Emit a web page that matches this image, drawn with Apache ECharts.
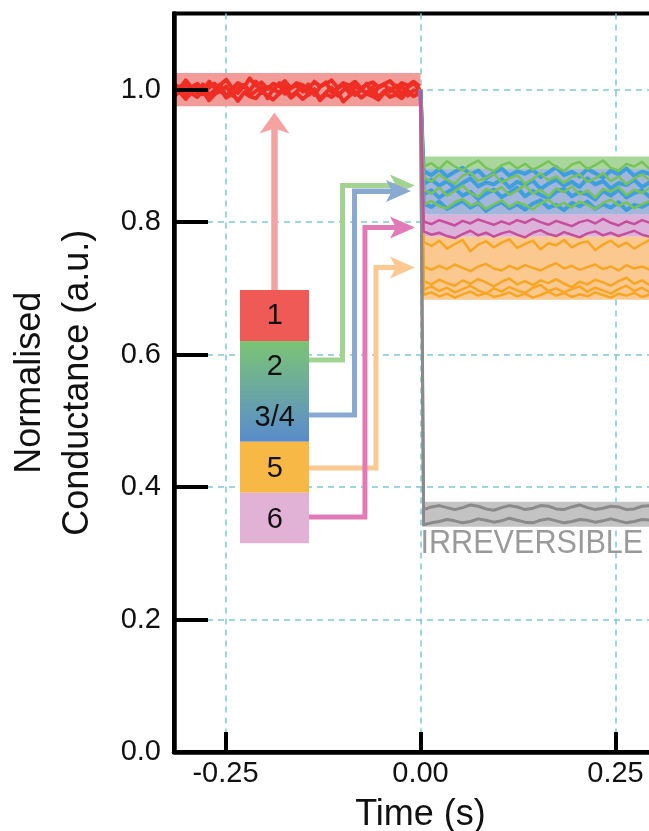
<!DOCTYPE html>
<html>
<head>
<meta charset="utf-8">
<script src="https://cdn.jsdelivr.net/npm/echarts@6/dist/echarts.min.js"></script>
<style>
  html, body { margin: 0; padding: 0; background: #ffffff; }
  #chart { width: 649px; height: 831px; }
</style>
</head>
<body>
<div id="chart"></div>
<script>
// ---- sample times (s) ----
const preTime = [-0.316,-0.309,-0.301,-0.294,-0.286,-0.279,-0.271,-0.264,-0.256,-0.249,
  -0.241,-0.234,-0.226,-0.219,-0.211,-0.204,-0.196,-0.189,-0.181,-0.174,
  -0.166,-0.159,-0.151,-0.144,-0.136,-0.129,-0.121,-0.114,-0.106,-0.099,
  -0.091,-0.084,-0.076,-0.069,-0.061,-0.054,-0.046,-0.039,-0.031,-0.024,
  -0.016,-0.009,-0.001];
const postTime = [0.000,0.004,0.014,0.024,0.034,0.044,0.054,0.064,0.074,0.084,
  0.094,0.104,0.114,0.124,0.134,0.144,0.154,0.164,0.174,0.184,
  0.194,0.204,0.214,0.224,0.234,0.244,0.254,0.264,0.274,0.284,
  0.294,0.304,0.314,0.324];

// ---- normalised conductance before the pulse (state 1) ----
const red1 = [1.004,0.996,1.008,0.999,1.006,0.993,1.003,1.009,0.997,1.005,0.991,1.002,1.007,0.998,1.012,0.995,1.004,0.999,1.010,0.994,1.003,1.006,0.997,1.008,0.992,1.004,1.011,0.996,1.002,1.007,0.995,1.005,0.999,1.009,0.994,1.003,1.008,0.997,1.006,0.993,1.004,1.010,1.000];
const red2 = [0.994,1.005,0.990,1.003,0.996,1.008,0.992,0.999,1.006,0.989,1.002,0.995,1.007,0.991,0.998,1.004,0.987,1.001,0.995,1.006,0.990,0.997,1.004,0.993,1.001,0.986,0.996,1.003,0.991,0.999,1.005,0.992,1.000,0.995,1.004,0.988,0.998,1.002,0.994,1.006,0.991,0.999,0.997];
const red3 = [1.010,1.001,1.014,1.004,1.009,0.999,1.012,1.003,1.008,1.015,1.002,1.010,1.004,1.017,1.006,1.011,1.001,1.009,1.005,1.013,1.002,1.010,1.007,1.001,1.012,1.005,1.009,1.014,1.003,1.010,1.006,1.012,1.002,1.008,1.011,1.004,1.009,1.013,1.003,1.010,1.006,1.012,1.005];
const red4 = [0.990,0.997,0.986,0.995,0.989,0.998,0.984,0.993,0.999,0.988,0.994,0.983,0.996,0.990,0.987,0.997,0.991,0.985,0.994,0.999,0.988,0.995,0.986,0.992,0.998,0.984,0.993,0.989,0.996,0.982,0.991,0.997,0.988,0.994,0.990,0.985,0.996,0.989,0.993,0.987,0.998,0.990,0.995];

// ---- after the pulse ----
const green1 = [1.0,0.884,0.889,0.880,0.892,0.884,0.878,0.887,0.893,0.882,0.877,0.886,0.890,0.881,0.888,0.879,0.885,0.892,0.883,0.877,0.887,0.891,0.880,0.886,0.893,0.882,0.878,0.888,0.884,0.891,0.880,0.886,0.889,0.883];
const green2 = [1.0,0.868,0.861,0.872,0.864,0.858,0.870,0.875,0.862,0.867,0.873,0.860,0.866,0.871,0.858,0.865,0.874,0.863,0.869,0.859,0.868,0.872,0.861,0.866,0.874,0.862,0.869,0.857,0.866,0.872,0.863,0.870,0.860,0.867];
const green3 = [1.0,0.849,0.843,0.852,0.840,0.847,0.855,0.844,0.838,0.850,0.846,0.853,0.841,0.848,0.856,0.843,0.849,0.839,0.851,0.845,0.854,0.842,0.848,0.837,0.850,0.846,0.853,0.841,0.849,0.844,0.852,0.840,0.847,0.851];
const green4 = [1.0,0.826,0.832,0.824,0.821,0.830,0.835,0.825,0.829,0.820,0.827,0.833,0.823,0.830,0.826,0.819,0.828,0.834,0.824,0.829,0.822,0.831,0.826,0.820,0.829,0.834,0.825,0.830,0.821,0.827,0.832,0.824,0.829,0.826];
const blue1 = [1.0,0.877,0.871,0.880,0.869,0.876,0.882,0.872,0.878,0.866,0.874,0.881,0.870,0.877,0.873,0.879,0.868,0.875,0.883,0.871,0.876,0.869,0.880,0.874,0.867,0.878,0.872,0.881,0.870,0.876,0.873,0.879,0.868,0.875];
const blue2 = [1.0,0.858,0.864,0.855,0.862,0.851,0.859,0.866,0.854,0.860,0.857,0.865,0.852,0.861,0.856,0.863,0.850,0.858,0.864,0.855,0.861,0.853,0.866,0.857,0.862,0.851,0.859,0.856,0.864,0.853,0.860,0.857,0.863,0.855];
const blue3 = [1.0,0.842,0.848,0.837,0.845,0.851,0.840,0.846,0.835,0.843,0.849,0.838,0.844,0.852,0.839,0.847,0.841,0.836,0.846,0.850,0.839,0.845,0.842,0.834,0.847,0.840,0.849,0.837,0.844,0.848,0.838,0.845,0.841,0.846];
const blue4 = [1.0,0.828,0.823,0.831,0.820,0.826,0.832,0.822,0.829,0.817,0.825,0.830,0.821,0.827,0.819,0.828,0.833,0.822,0.826,0.818,0.829,0.824,0.831,0.820,0.827,0.822,0.830,0.818,0.826,0.823,0.829,0.821,0.827,0.824];
const pink1 = [1.0,0.801,0.797,0.803,0.799,0.795,0.802,0.798,0.804,0.800,0.796,0.801,0.797,0.803,0.799,0.805,0.800,0.796,0.802,0.798,0.794,0.800,0.803,0.798,0.805,0.799,0.795,0.801,0.797,0.803,0.799,0.794,0.800,0.797];
const pink2 = [1.0,0.786,0.781,0.784,0.779,0.776,0.782,0.787,0.780,0.784,0.778,0.783,0.786,0.781,0.777,0.784,0.788,0.782,0.779,0.785,0.781,0.777,0.783,0.786,0.780,0.784,0.779,0.783,0.787,0.781,0.778,0.784,0.780,0.783];
const orange1 = [1.0,0.770,0.764,0.772,0.760,0.767,0.773,0.756,0.766,0.771,0.762,0.769,0.774,0.761,0.767,0.772,0.759,0.768,0.765,0.773,0.762,0.768,0.771,0.758,0.766,0.772,0.763,0.769,0.760,0.767,0.773,0.764,0.769,0.766];
const orange2 = [1.0,0.733,0.728,0.734,0.729,0.736,0.731,0.726,0.733,0.737,0.730,0.727,0.734,0.729,0.735,0.731,0.727,0.733,0.738,0.730,0.734,0.728,0.732,0.736,0.729,0.733,0.727,0.735,0.730,0.733,0.728,0.734,0.731,0.729];
const orange3 = [1.0,0.711,0.706,0.713,0.708,0.704,0.712,0.707,0.714,0.709,0.703,0.710,0.715,0.706,0.711,0.705,0.712,0.708,0.714,0.707,0.702,0.710,0.706,0.713,0.709,0.704,0.711,0.716,0.707,0.712,0.705,0.710,0.708,0.713];
const orange4 = [1.0,0.698,0.703,0.696,0.701,0.694,0.699,0.704,0.697,0.692,0.700,0.695,0.702,0.697,0.693,0.701,0.705,0.696,0.700,0.694,0.699,0.703,0.695,0.701,0.697,0.692,0.699,0.704,0.696,0.701,0.694,0.700,0.697,0.702];
const orange5 = [1.0,0.690,0.694,0.688,0.692,0.686,0.691,0.695,0.689,0.693,0.687,0.690,0.694,0.688,0.692,0.686,0.690,0.695,0.689,0.693,0.687,0.691,0.688,0.694,0.690,0.686,0.692,0.689,0.693,0.687,0.691,0.694,0.688,0.690];
const grey1 = [1.0,0.366,0.370,0.372,0.369,0.366,0.369,0.373,0.371,0.367,0.365,0.369,0.372,0.370,0.366,0.368,0.372,0.371,0.367,0.366,0.370,0.373,0.369,0.366,0.368,0.371,0.370,0.366,0.367,0.371,0.372,0.368,0.366,0.369];
const grey2 = [1.0,0.343,0.346,0.348,0.351,0.349,0.346,0.348,0.352,0.350,0.347,0.349,0.353,0.350,0.347,0.346,0.350,0.352,0.349,0.346,0.348,0.351,0.350,0.347,0.349,0.352,0.349,0.346,0.348,0.351,0.350,0.347,0.348,0.350];

// ---- spread of each state: [t start, t end, low, high] ----
const spreadRed    = [-0.316, 0.000, 0.975, 1.025];
const spreadGreen  = [0.002, 0.316, 0.820, 0.899];
const spreadBlue   = [0.002, 0.316, 0.811, 0.880];
const spreadPink   = [0.002, 0.316, 0.778, 0.811];
const spreadOrange = [0.002, 0.316, 0.683, 0.778];
const spreadGrey   = [0.002, 0.316, 0.340, 0.378];

// ---- axis ticks ----
const xTicks = [-0.25, 0.00, 0.25];
const yTicks = [0.0, 0.2, 0.4, 0.6, 0.8, 1.0];
const X_MIN = -0.316, X_MAX = 0.316, Y_MIN = 0, Y_MAX = 1.115;

// ---- state key (swatch boundaries in conductance units, key spans t = keyLeft..keyRight) ----
const keyLeft = -0.2314, keyRight = -0.1429;
const keyEdges = [0.6976, 0.6206, 0.4686, 0.3915, 0.3151];
const keyLabels = ['1', '2', '3/4', '5', '6'];
const keyLabelT = -0.1869;
const keyLabelY = [0.6586, 0.5806, 0.5043, 0.4273, 0.3510];

// ---- connectors from the key to each level ----
const linkRed    = [[-0.1872, 0.6976], [-0.1872, 0.9497]];
const linkGreen  = [[-0.1429, 0.5919], [-0.1000, 0.5919], [-0.1000, 0.8554], [-0.0231, 0.8554]];
const linkBlue   = [[-0.1429, 0.5088], [-0.0846, 0.5088], [-0.0846, 0.8470], [-0.0282, 0.8470]];
const linkOrange = [[-0.1429, 0.4288], [-0.0571, 0.4288], [-0.0571, 0.7315], [-0.0231, 0.7315]];
const linkPink   = [[-0.1429, 0.3548], [-0.0712, 0.3548], [-0.0712, 0.7919], [-0.0231, 0.7919]];

const irreversibleText = 'IRREVERSIBLE';
const irreversibleAt = [0.0, 0.340];

// ---- styling ----
const FONT = '"Liberation Sans", Arial, Helvetica, sans-serif';
const C = {
  red: '#ee2e24', redBand: '#f29c9a',
  green: '#78c25a', greenBand: '#a9d79b',
  blue: '#3f9fdd', blueBand: '#a2b5da',
  pink: '#c64f9d', pinkBand: '#dcb2da',
  orange: '#f6a623', orangeBand: '#fbc98f',
  grey: '#8a8a8a', greyBand: '#c3c3c3',
  grid: '#7fc9d3'
};
const ARROW = 'path://M10,0 L20,25 L10,19 L0,25 Z';
const PX_PER_SECOND = 780;

const chart = echarts.init(document.getElementById('chart'), null, { renderer: 'canvas' });

function trace(values, times, color, width, z) {
  return {
    type: 'line', xAxisIndex: 0, yAxisIndex: 0,
    data: times.map((t, i) => [t, values[i]]),
    symbol: 'none', showSymbol: false, silent: true, z: z,
    lineStyle: { color: color, width: width, join: 'round' }
  };
}

const spreads = [spreadRed, spreadGreen, spreadBlue, spreadPink, spreadOrange, spreadGrey];
const spreadColors = [C.redBand, C.greenBand, C.blueBand, C.pinkBand, C.orangeBand, C.greyBand];

const keySwatches = [];
for (let i = 0; i < keyEdges.length - 1; i++) {
  keySwatches.push([keyLeft, keyRight, keyEdges[i + 1], keyEdges[i]]);
}
const keyFills = [
  '#ef5a56',
  new echarts.graphic.LinearGradient(0, 0, 0, 1, [
    { offset: 0, color: '#7cc475' },
    { offset: 1, color: '#5a8bcc' }
  ]),
  '#f8b846',
  '#e2b2d6'
];

function rectItem(params, api, fill) {
  const p0 = api.coord([api.value(0), api.value(3)]);
  const p1 = api.coord([api.value(1), api.value(2)]);
  return {
    type: 'rect',
    shape: { x: p0[0], y: p0[1], width: p1[0] - p0[0], height: p1[1] - p0[1] },
    style: { fill: fill }
  };
}

const gridLeft = 174;
const gridWidth = (X_MAX - X_MIN) * PX_PER_SECOND;

const option = {
  animation: false,
  backgroundColor: '#ffffff',
  grid: {
    left: gridLeft, top: 13.5, bottom: 79, width: gridWidth,
    outerBoundsMode: 'none', containLabel: false,
    show: true, borderColor: '#000', borderWidth: 4, backgroundColor: 'transparent'
  },
  xAxis: [
    {
      type: 'value', min: X_MIN, max: X_MAX, position: 'top', z: 0,
      axisLine: { show: false }, axisLabel: { show: false },
      axisTick: { show: false, customValues: xTicks },
      splitLine: { show: true, lineStyle: { color: C.grid, width: 1.5, type: [6, 5] } }
    },
    {
      type: 'value', min: X_MIN, max: X_MAX, position: 'bottom', z: 10,
      axisLine: { show: true, onZero: false, lineStyle: { color: '#000', width: 4.5 } },
      axisTick: { show: true, inside: true, length: 20, customValues: xTicks, lineStyle: { color: '#000', width: 4 } },
      axisLabel: { customValues: xTicks, formatter: v => v.toFixed(2), fontSize: 29, color: '#111', margin: 7, fontFamily: FONT },
      splitLine: { show: false },
      name: 'Time (s)', nameLocation: 'middle', nameGap: 45,
      nameTextStyle: { fontSize: 36, color: '#111', fontFamily: FONT }
    }
  ],
  yAxis: [
    {
      type: 'value', min: Y_MIN, max: Y_MAX, position: 'right', z: 0,
      axisLine: { show: false }, axisLabel: { show: false },
      axisTick: { show: false, customValues: yTicks },
      splitLine: { show: true, lineStyle: { color: C.grid, width: 1.5, type: [6, 5] } }
    },
    {
      type: 'value', min: Y_MIN, max: Y_MAX, position: 'left', z: 10,
      axisLine: { show: true, onZero: false, lineStyle: { color: '#000', width: 4.5 } },
      axisTick: { show: true, inside: true, length: 34, customValues: yTicks, lineStyle: { color: '#000', width: 4 } },
      axisLabel: { customValues: yTicks, formatter: v => v.toFixed(1), fontSize: 29, color: '#111', margin: 13, fontFamily: FONT },
      splitLine: { show: false },
      name: 'Normalised\nConductance (a.u.)', nameLocation: 'middle', nameGap: 72, nameRotate: 90,
      nameTextStyle: { fontSize: 36, lineHeight: 48, color: '#111', fontFamily: FONT, align: 'center' }
    }
  ],
  series: [
    {
      type: 'custom', xAxisIndex: 0, yAxisIndex: 0, z: 1, silent: true,
      encode: { x: [0, 1], y: [2, 3] },
      data: spreads,
      renderItem: (params, api) => rectItem(params, api, spreadColors[params.dataIndex])
    },
    {
      type: 'custom', xAxisIndex: 0, yAxisIndex: 0, z: 1, silent: true,
      encode: { x: [0, 1], y: [2, 3] },
      data: keySwatches,
      renderItem: (params, api) => rectItem(params, api, keyFills[params.dataIndex])
    },
    trace(red1, preTime, C.red, 4, 2),
    trace(red2, preTime, C.red, 4, 2),
    trace(red3, preTime, C.red, 4, 2),
    trace(red4, preTime, C.red, 4, 2),
    trace(blue1, postTime, C.blue, 4, 2),
    trace(blue2, postTime, C.blue, 4, 2),
    trace(blue3, postTime, C.blue, 4, 2),
    trace(blue4, postTime, C.blue, 4, 2),
    trace(green1, postTime, C.green, 2.5, 2),
    trace(green2, postTime, C.green, 2.5, 2),
    trace(green3, postTime, C.green, 2.5, 2),
    trace(green4, postTime, C.green, 2.5, 2),
    trace(orange1, postTime, C.orange, 2.5, 2),
    trace(orange2, postTime, C.orange, 2.5, 2),
    trace(orange3, postTime, C.orange, 2.5, 2),
    trace(orange4, postTime, C.orange, 2.5, 2),
    trace(orange5, postTime, C.orange, 2.5, 2),
    trace(grey1, postTime, C.grey, 3, 2),
    trace(grey2, postTime, C.grey, 3, 2),
    trace(pink1, postTime, C.pink, 2.5, 2),
    trace(pink2, postTime, C.pink, 2.5, 2),
    {
      // bent connector paths
      type: 'lines', coordinateSystem: 'cartesian2d', xAxisIndex: 0, yAxisIndex: 0,
      polyline: true, z: 3, silent: true,
      data: [
        { coords: linkGreen, lineStyle: { color: '#a2d391' } },
        { coords: linkBlue, lineStyle: { color: '#89a9d3' } },
        { coords: linkOrange, lineStyle: { color: '#fcc993' } },
        { coords: linkPink, lineStyle: { color: '#e37ab8' } }
      ],
      lineStyle: { width: 5, opacity: 1, curveness: 0, join: 'miter' }
    },
    {
      // arrow heads on the last leg of each connector
      type: 'lines', coordinateSystem: 'cartesian2d', xAxisIndex: 0, yAxisIndex: 0,
      z: 3, silent: true,
      symbol: ['none', ARROW], symbolSize: [1, [22, 25]],
      data: [
        { coords: linkGreen.slice(-2), lineStyle: { color: '#a2d391' } },
        { coords: linkBlue.slice(-2), lineStyle: { color: '#89a9d3' } },
        { coords: linkOrange.slice(-2), lineStyle: { color: '#fcc993' } },
        { coords: linkPink.slice(-2), lineStyle: { color: '#e37ab8' } }
      ],
      lineStyle: { width: 5, opacity: 1, curveness: 0 }
    },
    {
      type: 'lines', coordinateSystem: 'cartesian2d', xAxisIndex: 0, yAxisIndex: 0,
      z: 3, silent: true,
      symbol: ['none', ARROW], symbolSize: [1, [30, 21]],
      data: [{ coords: linkRed, lineStyle: { color: '#f5a3a2' } }],
      lineStyle: { width: 6.5, opacity: 1, curveness: 0 }
    },
    {
      type: 'custom', xAxisIndex: 0, yAxisIndex: 0, z: 4, silent: true,
      data: keyLabelY.map(y => [keyLabelT, y]),
      renderItem: (params, api) => {
        const p = api.coord([api.value(0), api.value(1)]);
        return {
          type: 'text', x: p[0], y: p[1],
          style: { text: keyLabels[params.dataIndex], fontSize: 29, fontFamily: FONT, fill: '#111', align: 'center', verticalAlign: 'middle' }
        };
      }
    },
    {
      type: 'custom', xAxisIndex: 0, yAxisIndex: 0, z: 4, silent: true,
      data: [irreversibleAt],
      renderItem: (params, api) => {
        const p = api.coord([api.value(0), api.value(1)]);
        return {
          type: 'text', x: p[0], y: p[1], scaleX: 0.9,
          style: { text: irreversibleText, fontSize: 34, fontFamily: FONT, fill: '#9a9a9a', align: 'left', verticalAlign: 'top' }
        };
      }
    }
  ]
};

chart.setOption(option);
</script>
</body>
</html>
